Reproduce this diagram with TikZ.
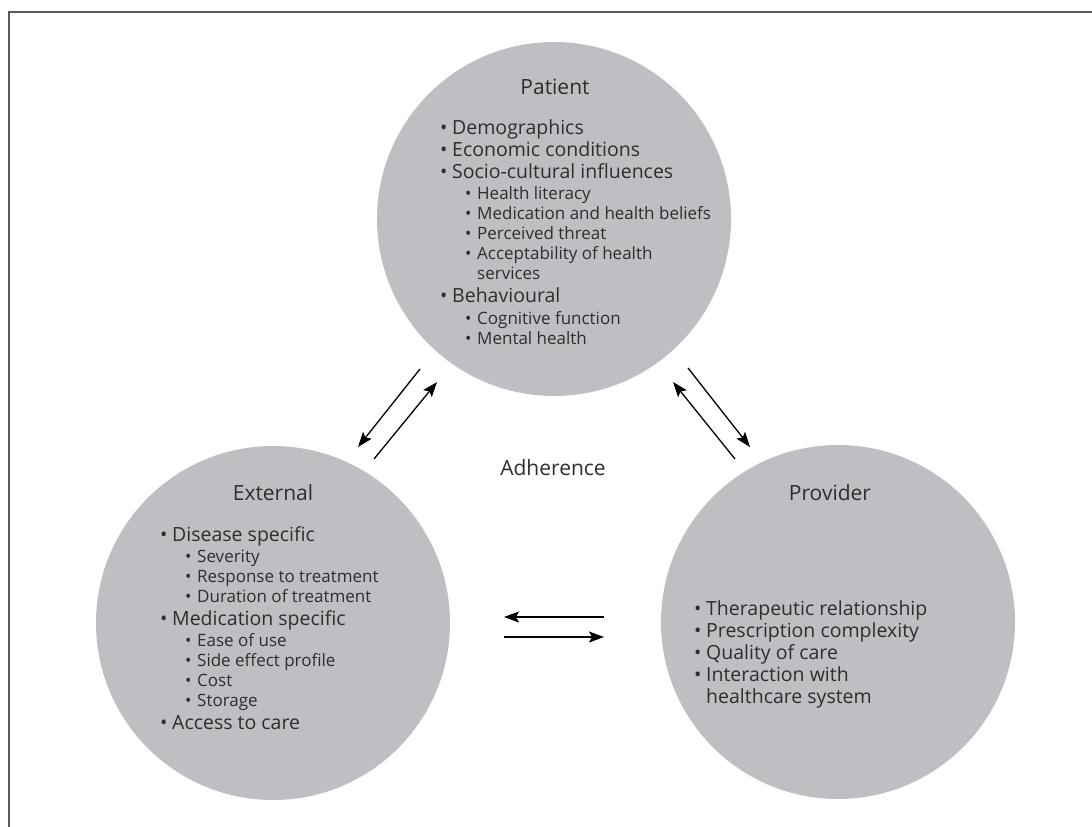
\documentclass[tikz,border=0pt]{standalone}
\usepackage{fontspec}
\setmainfont{Open Sans}
\usetikzlibrary{arrows.meta}

\definecolor{discgray}{HTML}{BEBFC3}
\definecolor{inkgray}{HTML}{2E2E2E}
\newcommand{\mainbul}{\makebox[12pt][l]{\textbullet}}
\newcommand{\subbul}{\makebox[12pt][l]{\textbullet}}

\tikzset{
	disc/.style={circle,fill=discgray,minimum size=354pt,inner sep=0pt},
	heading/.style={font=\fontsize{21}{25}\selectfont,text=inkgray,anchor=base,inner sep=0pt},
	mainline/.style={font=\fontsize{19.5}{22}\selectfont,text=inkgray,anchor=base west,inner sep=0pt},
	subline/.style={font=\fontsize{17}{20}\selectfont,text=inkgray,anchor=base west,inner sep=0pt},
	flow/.style={->,line width=1.3pt},
}

\begin{document}
\begin{tikzpicture}[x=1pt,y=-1pt,>={Stealth[length=15pt,width=11pt,inset=3pt]}]
		\useasboundingbox (0,0) rectangle (1092,827);

		% draw the frame
		\draw[line width=1.2pt,gray!70!black] (9,827) -- (9,12) -- (1092,12);

		% draw the three circles
		\node[disc] (patient) at (554,219) {};
		\node[disc] (external) at (273,623) {};
		\node[disc] (provider) at (838,622) {};

		% patient factors
		\node[heading] (pathead) at (555,94) {Patient};
		\foreach \y/\txt in {134/Demographics,156/Economic conditions,
			178/Socio-cultural influences,302/Behavioural}
			\node[mainline] (patm\y) at (440,\y) {\mainbul\txt};
		\foreach \y/\txt in {199/Health literacy,219/Medication and health beliefs,
			239/Perceived threat,259/Acceptability of health,
			324/Cognitive function,344/Mental health}
			\node[subline] (pats\y) at (465,\y) {\subbul\txt};
		\node[subline] (patcont) at (477,279) {services};

		% external factors
		\node[heading] (exthead) at (273,500) {External};
		\foreach \y/\txt in {541/Disease specific,625/Medication specific,729/Access to care}
			\node[mainline] (extm\y) at (160,\y) {\mainbul\txt};
		\foreach \y/\txt in {562/Severity,582/Response to treatment,602/Duration of treatment,
			646/Ease of use,666/Side effect profile,686/Cost,706/Storage}
			\node[subline] (exts\y) at (185,\y) {\subbul\txt};

		% provider factors
		\node[heading] (provhead) at (830,500) {Provider};
		\foreach \y/\txt in {615/Therapeutic relationship,637/Prescription complexity,
			659/Quality of care,681/Interaction with}
			\node[mainline] (provm\y) at (694,\y) {\mainbul\txt};
		\node[mainline] (provcont) at (706,703) {healthcare system};

		% centre label
		\node[heading,anchor=center] (adh) at (553,468) {Adherence};

		% arrow end points
		\coordinate (pe1) at (420,369); \coordinate (pe2) at (358,447);
		\coordinate (pe3) at (374,459); \coordinate (pe4) at (437,382);
		\coordinate (pp1) at (688,368); \coordinate (pp2) at (750,447);
		\coordinate (pp3) at (735,459); \coordinate (pp4) at (673,382);
		\coordinate (ep1) at (604,617); \coordinate (ep2) at (504,617);
		\coordinate (ep3) at (504,637); \coordinate (ep4) at (604,637);

		% draw the arrows
		\foreach \a/\b in {pe1/pe2,pe3/pe4,pp1/pp2,pp3/pp4,ep1/ep2,ep3/ep4}
			\draw[flow] (\a) -- (\b);
	\end{tikzpicture}
\end{document}
